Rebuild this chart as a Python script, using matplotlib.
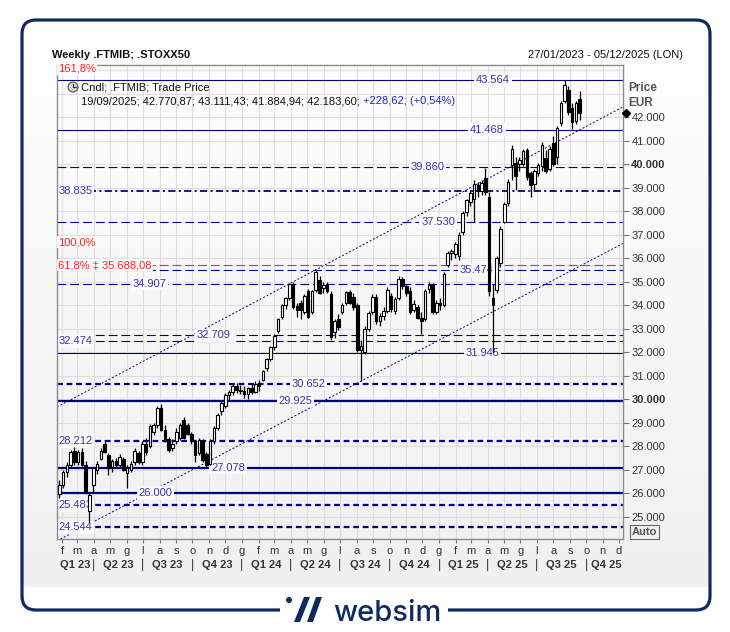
import numpy as np
import pandas as pd
import matplotlib
matplotlib.use("Agg")
import matplotlib.pyplot as plt
import matplotlib.dates as mdates
from matplotlib.colors import LinearSegmentedColormap
from matplotlib.patches import FancyBboxPatch, Rectangle, Polygon, Circle
from matplotlib.transforms import blended_transform_factory

plt.rcParams["font.family"] = ["Liberation Sans", "DejaVu Sans"]

# weekly candles .FTMIB, first bar friday 27/01/2023
first_bar = "2023-01-27"
opens = [
    25950, 26350, 26900, 27200, 27800, 27300, 27750, 27200, 25250, 26350,
    27000, 27450, 28100, 27600, 27100, 27350, 27200, 27450, 26850, 27000,
    27300, 27700, 27300, 28100, 28000, 28600, 28900, 29600, 28700, 28300,
    27900, 28200, 28350, 29100, 28900, 28500, 28200, 27700, 28200, 27650,
    27250, 28200, 28750, 29500, 29700, 30150, 30300, 30550, 30400, 30350,
    30200, 30450, 30300, 30650, 30800, 31300, 31700, 32200, 32900, 33500,
    34000, 34300, 34900, 33950, 34100, 33700, 34600, 33700, 34650, 35050,
    34720, 34850, 34450, 32850, 33400, 33700, 34100, 34550, 34350, 34000,
    32100, 32000, 33000, 33700, 34350, 33300, 33550, 33750, 34400, 33750,
    34300, 35100, 34800, 34600, 33800, 33900, 33450, 33400, 34700, 34850,
    33700, 34100, 34000, 35700, 36200, 36150, 36100, 37100, 37950, 38400,
    38500, 39100, 38850, 39400, 38600, 34300, 34650, 35800, 37550, 38350,
    39950, 40050, 40000, 40000, 40600, 39600, 39150, 39600, 39900, 40250,
    39800, 40900, 40300, 41750, 42700, 43150, 42400, 41850, 42770.87]
highs = [
    26550, 27000, 27300, 27850, 27950, 27850, 27900, 27350, 26000, 27100,
    27350, 27900, 28250, 27700, 27450, 27500, 27650, 27550, 27200, 27350,
    27900, 27800, 28200, 28350, 28950, 29000, 29700, 29800, 28900, 28400,
    28300, 28750, 29000, 29250, 29000, 28600, 28250, 28350, 28300, 27750,
    28300, 28850, 29400, 29950, 30250, 30400, 30650, 30700, 30600, 30550,
    30500, 30700, 30750, 30800, 31250, 31750, 32250, 32750, 33450, 34050,
    34350, 34950, 35000, 34100, 34200, 34450, 34700, 34650, 35500, 35250,
    35000, 35000, 34600, 33400, 33600, 34100, 34600, 34650, 34500, 34100,
    32500, 33100, 33750, 34450, 34450, 33650, 33900, 34750, 34500, 34350,
    35250, 35200, 34900, 34750, 34200, 34000, 33700, 34700, 35000, 34950,
    34200, 34300, 35400, 36300, 36400, 36700, 37100, 38000, 38500, 38850,
    39300, 39250, 39300, 39850, 38800, 34900, 36100, 37350, 38400, 39350,
    40800, 40300, 40300, 40650, 40700, 39700, 39800, 40050, 40950, 40600,
    40750, 41200, 41600, 42700, 43560, 43300, 42600, 42700, 43111.43]
lows = [
    25800, 26200, 26700, 27100, 27200, 27200, 27150, 25950, 24780, 26000,
    26800, 27400, 27700, 26750, 26900, 27100, 27100, 26950, 26200, 26900,
    27200, 27250, 27200, 27600, 27900, 28450, 28750, 28650, 28150, 27750,
    27800, 28100, 28250, 28300, 28450, 28100, 27300, 27600, 27300, 27050,
    27200, 28100, 28700, 29300, 29600, 29950, 30150, 30250, 30200, 30050,
    30000, 30200, 30250, 30350, 30750, 31200, 31600, 32100, 32800, 33400,
    33850, 34200, 33850, 33500, 33400, 33600, 33450, 33600, 34550, 34450,
    34500, 34500, 32500, 32600, 32950, 33600, 34000, 34050, 33800, 32000,
    30750, 31900, 32900, 33600, 33200, 33100, 33350, 33650, 33700, 33600,
    34200, 34700, 34400, 33600, 33700, 33400, 32750, 33300, 34500, 33600,
    33600, 33800, 33900, 35600, 35900, 36000, 35900, 37000, 37800, 38200,
    37550, 38600, 38700, 38700, 34400, 31950, 34500, 35600, 37500, 38200,
    39300, 38900, 39700, 39900, 39300, 38600, 38900, 39500, 39700, 39600,
    39700, 39900, 40000, 41600, 42600, 42100, 41500, 41700, 41884.94]
closes = [
    26350, 26900, 27200, 27750, 27300, 27750, 27200, 26050, 25900, 27050,
    27250, 27800, 27750, 27050, 27350, 27200, 27550, 27000, 27050, 27250,
    27800, 27300, 28100, 27750, 28850, 28900, 29600, 28700, 28250, 27850,
    28100, 28600, 28900, 28350, 28500, 28200, 27600, 28250, 27400, 27200,
    28200, 28750, 29300, 29850, 30150, 30300, 30550, 30400, 30350, 30200,
    30450, 30300, 30650, 30550, 31200, 31700, 32200, 32700, 33400, 34000,
    34300, 34900, 33900, 33800, 33800, 34400, 33500, 34600, 35400, 34500,
    34850, 34600, 32650, 33300, 33050, 34000, 34550, 34100, 33900, 32100,
    32250, 33000, 33650, 34350, 33300, 33550, 33750, 34650, 33850, 34250,
    35100, 34800, 34500, 33700, 34050, 33450, 33300, 34600, 34850, 33700,
    34100, 34000, 35300, 36200, 36300, 36600, 37000, 37900, 38450, 38750,
    39150, 38850, 39200, 38800, 34600, 34000, 36000, 37250, 38300, 39250,
    40650, 39500, 40150, 40550, 39450, 39100, 39700, 39950, 40800, 39700,
    40650, 40000, 41550, 42600, 43350, 42200, 41800, 42600, 42183.60]

# horizontal levels drawn on the chart
levels = [43564, 41468, 39860, 38835, 37530, 35474, 34907, 32709, 32474,
          31945, 30652, 29925, 28212, 27078, 26000, 25483, 24544]
level_kind = {43564: "thin", 41468: "thin", 31945: "thin",
              29925: "thick", 27078: "thick", 26000: "thick",
              39860: "dash", 37530: "dash", 35474: "dash", 34907: "dash",
              32709: "dash", 32474: "dash",
              30652: "bdash", 28212: "bdash", 25483: "bdash", 24544: "bdash",
              38835: "dashdot"}
# where the value tag sits (None = left edge)
level_tag_at = {43564: "2025-04-11", 41468: "2025-03-31", 39860: "2024-12-11",
                37530: "2024-12-30", 35474: "2025-03-12", 34907: "2023-07-14",
                32709: "2023-11-10", 31945: "2025-03-23", 30652: "2024-05-04",
                29925: "2024-04-10", 27078: "2023-12-06", 26000: "2023-07-25"}

fib_value = 35688.08
fib_tags = [("161,8%", 44064), ("100,0%", 36680), ("61,8% \u2021 35.688,08", 35688.08)]

channel_dates = ["2023-01-22 16:00", "2025-12-08 10:00"]
channel_upper = [29660, 42430]
channel_lower = [23960, 36620]

month_letters = list("fmamglasond") + list("gfmamglasond") + list("gfmamglasond")
quarter_names = ["Q1 23", "Q2 23", "Q3 23", "Q4 23", "Q1 24", "Q2 24",
                 "Q3 24", "Q4 24", "Q1 25", "Q2 25", "Q3 25", "Q4 25"]
price_ticks = list(range(25000, 42001, 1000))

W, H = 730, 632
navy = "#00008b"
tag_blue = "#3434b4"
frame_navy = "#0f2a5c"
red = "#ff2020"
txt = "#333333"


def fx(x):
    return x / W


def fy(y):
    return 1 - y / H


fig = plt.figure(figsize=(W / 100, H / 100), dpi=100, facecolor="white")

# decoration layer in pixel coordinates
bg = fig.add_axes([0, 0, 1, 1], zorder=-5)
bg.axis("off")
clip = FancyBboxPatch((22, 20), 688, 590, boxstyle="round,pad=0,rounding_size=14",
                      fc="none", ec="none")
bg.add_patch(clip)
cmap = LinearSegmentedColormap.from_list("panel", ["#ffffff", "#f0f0f0"])
im = bg.imshow(np.linspace(0, 1, 256).reshape(-1, 1), extent=(22, 710, 587, 20),
               cmap=cmap, aspect="auto", zorder=0)
im.set_clip_path(clip)
bg.set_xlim(0, W)
bg.set_ylim(H, 0)
bg.add_patch(FancyBboxPatch((22, 20), 688, 590, boxstyle="round,pad=0,rounding_size=14",
                            fc="none", ec=frame_navy, lw=2.3, zorder=2))
bg.add_patch(Rectangle((280, 600), 168, 20, fc="white", ec="none", zorder=3))
bg.add_patch(Circle((289, 600), 3.0, fc=frame_navy, ec="none", zorder=4))
bg.add_patch(Polygon([(294, 622), (300, 622), (310, 597), (304, 597)], fc=frame_navy, ec="none", zorder=4))
bg.add_patch(Polygon([(307, 622), (313, 622), (322, 597), (316, 597)], fc=frame_navy, ec="none", zorder=4))
bg.text(333, 621, "websim", fontsize=21, fontweight="medium", color=frame_navy,
        family=["Inter", "DejaVu Sans"], ha="left", va="baseline", zorder=4)

# main chart
ax = fig.add_axes([fx(57), fy(539), (623 - 57) / W, (539 - 65) / H])
ax.set_facecolor("none")
x0 = mdates.date2num(pd.Timestamp(channel_dates[0]))
x1 = mdates.date2num(pd.Timestamp(channel_dates[1]))

month_starts = pd.date_range("2023-02-01", periods=len(month_letters), freq="MS")
mx = mdates.date2num(month_starts)
for m in mx:
    ax.axvline(m, color="#dedede", lw=0.8, zorder=0)
for g in range(25000, 44001, 1000):
    ax.axhline(g, color="#dedede", lw=0.8, zorder=0)

for sp in ax.spines.values():
    sp.set_color("#8c8c8c")
    sp.set_linewidth(1)

styles = {"thin": dict(lw=0.8, ls="-"),
          "thick": dict(lw=1.6, ls="-"),
          "dash": dict(lw=0.8, ls=(0, (8, 3.5))),
          "bdash": dict(lw=1.6, ls=(0, (2.6, 1.7))),
          "dashdot": dict(lw=1.3, ls=(0, (4, 1.8, 1.2, 1.8)))}
ytrans = blended_transform_factory(ax.transAxes, ax.transData)
for lv in levels:
    ax.axhline(lv, color=navy, zorder=2, **styles[level_kind[lv]])
    tag = f"{lv:,}".replace(",", ".")
    if level_tag_at.get(lv):
        ax.text(mdates.date2num(pd.Timestamp(level_tag_at[lv])), lv, tag, ha="center",
                va="center", fontsize=8, color=tag_blue, zorder=2.5,
                bbox=dict(fc="#fbfbfb", ec="none", pad=1.2))
    else:
        ax.text(0.002, lv, tag, transform=ytrans,
                ha="left", va="center", fontsize=8, color=tag_blue, zorder=2.5,
                bbox=dict(fc="#fbfbfb", ec="none", pad=1.2))

ax.axhline(fib_value, color=red, lw=0.8, ls=(0, (8, 3.5)), zorder=2.2)
for t, v in fib_tags:
    ax.text(0.002, v, t, transform=ytrans,
            ha="left", va="center", fontsize=8, color=red, zorder=2.6,
            bbox=dict(fc="#fbfbfb", ec="none", pad=0.8))

ax.plot([x0, x1], channel_upper, color=navy, lw=0.7, ls=(0, (2, 2)), zorder=2)
ax.plot([x0, x1], channel_lower, color=navy, lw=0.7, ls=(0, (2, 2)), zorder=2)

# candles
dates = mdates.date2num(pd.date_range(first_bar, periods=len(closes), freq="7D"))
o = np.array(opens)
c = np.array(closes)
ax.vlines(dates, lows, highs, color="black", lw=0.9, zorder=3)
up = c >= o
ax.bar(dates[up], (c - o)[up], bottom=o[up], width=4.8, color="white",
       edgecolor="black", linewidth=0.8, zorder=3.5)
ax.bar(dates[~up], (o - c)[~up], bottom=c[~up], width=4.8, color="black",
       edgecolor="black", linewidth=0.8, zorder=3.5)

ax.set_xlim(x0, x1)
ax.set_ylim(24043, 44213)

# axes ticks
ax.yaxis.tick_right()
ax.set_yticks(price_ticks, [f"{v:,}".replace(",", ".") for v in price_ticks])
for v, lab in zip(price_ticks, ax.get_yticklabels()):
    if v in (30000, 40000):
        lab.set_fontweight("bold")
ax.tick_params(axis="y", length=4, color="#777777", labelsize=8, labelcolor=txt, pad=2)
ax.set_xticks(mx, month_letters)
ax.tick_params(axis="x", length=3, color="#777777", labelsize=8, labelcolor=txt, pad=2)

q_starts = pd.date_range("2023-01-01", periods=13, freq="QS")
qx = mdates.date2num(q_starts)
bt = blended_transform_factory(ax.transData, ax.transAxes)
for i, name in enumerate(quarter_names):
    a = max(qx[i], x0)
    b = min(qx[i + 1], x1)
    ax.text((a + b) / 2 + (3 if i == 11 else 0), -0.055, name, transform=bt, ha="center",
            va="center", fontsize=8, fontweight="bold", color=txt, clip_on=False)
for q in qx[1:12]:
    ax.text(q, -0.055, "|", transform=bt, ha="center", va="center", fontsize=9,
            color=txt, clip_on=False)

ax.plot([x1 + 5], [closes[-1]], marker="D", ms=4.5, color="black", clip_on=False, zorder=6)

# header and legend
fig.text(fx(52), fy(55), "Weekly .FTMIB; .STOXX50", fontsize=8, fontweight="bold",
         color="#111111", va="center")
fig.text(fx(683), fy(55), "27/01/2023 - 05/12/2025 (LON)", fontsize=8,
         color="#111111", va="center", ha="right")
fig.text(fx(628), fy(88), "Price", fontsize=8.5, fontweight="bold", color="#555555", va="center")
fig.text(fx(628), fy(103), "EUR", fontsize=8.5, fontweight="bold", color="#555555", va="center")
fig.text(fx(632), fy(532), "Auto", fontsize=8, fontweight="bold", color="#555555", va="center",
         bbox=dict(fc="none", ec="#666666", lw=0.8, boxstyle="square,pad=0.15"))

ax.add_patch(Circle((73, 87), 5, transform=bg.transData, fc="#cfd3d8", ec="#555555",
                    lw=0.8, zorder=6, clip_on=False))
ax.plot([73, 73, 76], [83.5, 87, 87], transform=bg.transData, color="#333333", lw=0.8,
        zorder=7, clip_on=False)
fig.text(fx(81), fy(87), "Cndl; .FTMIB; Trade Price", fontsize=8, color="#111111",
         va="center")
t2 = fig.text(fx(81), fy(101), "19/09/2025; 42.770,87; 43.111,43; 41.884,94; 42.183,60; ",
              fontsize=8, color="#111111", va="center")
fig.add_artist(matplotlib.text.Annotation("+228,62; (+0,54%)", xy=(1, 0.5), xycoords=t2,
                                          fontsize=8, color="#2222dd", va="center"))
plt.savefig("out.png", dpi=100, facecolor="white")
